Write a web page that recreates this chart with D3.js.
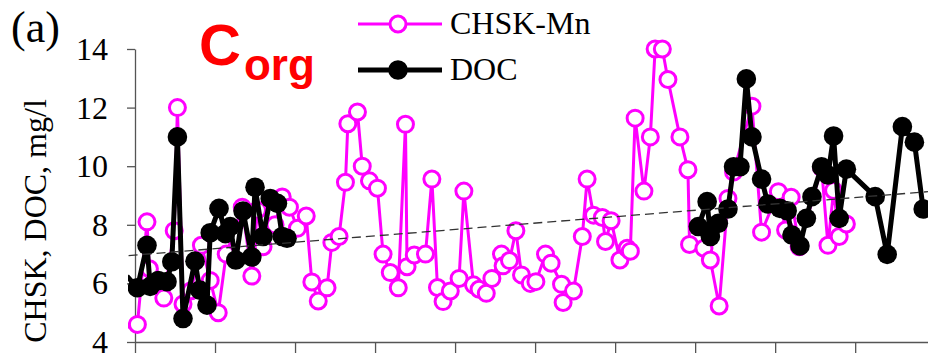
<!DOCTYPE html>
<html>
<head>
<meta charset="utf-8">
<script src="https://cdn.jsdelivr.net/npm/d3@7"></script>
<style>
  html, body { margin: 0; padding: 0; background: #fff; }
  svg { display: block; }
  .serif { font-family: 'Liberation Serif', 'DejaVu Serif', serif; }
  .sans { font-family: 'Liberation Sans', Arial, sans-serif; }
</style>
</head>
<body>
<div id="chart"></div>
<script>
// time position (tick units) and values, mg/l
const chskT = [-0.10, 0.03, 0.15, 0.18, 0.36, 0.49, 0.53, 0.60, 0.70, 0.83, 0.94, 1.04, 1.14, 1.34, 1.46, 1.53,
  1.60, 1.75, 1.84, 1.93, 2.03, 2.14, 2.21, 2.29, 2.40, 2.46, 2.55, 2.63, 2.66, 2.78, 2.84, 2.93, 3.03, 3.10,
  3.19, 3.29, 3.38, 3.40, 3.49, 3.63, 3.71, 3.78, 3.85, 3.94, 4.05, 4.11, 4.23, 4.30, 4.39, 4.46, 4.58, 4.60,
  4.68, 4.76, 4.83, 4.94, 5.01, 5.13, 5.20, 5.33, 5.35, 5.48, 5.59, 5.65, 5.73, 5.84, 5.88, 5.95, 6.06, 6.15,
  6.19, 6.25, 6.36, 6.44, 6.50, 6.59, 6.66, 6.81, 6.91, 6.93, 7.11, 7.19, 7.30, 7.41, 7.48, 7.71, 7.83, 8.04,
  8.13, 8.20, 8.30, 8.58, 8.66, 8.73, 8.80, 8.89];
const chsk = [4.5, 4.6, 8.1, 6.5, 5.5, 7.8, 12.0, 5.3, 5.75, 7.3, 6.1, 5.0, 7.0, 8.6, 6.25, 8.5,
  7.25, 8.0, 8.95, 8.6, 7.88, 8.3, 6.05, 5.4, 5.85, 7.4, 7.6, 9.45, 11.45, 11.85, 10.0, 9.5, 9.25, 7.0,
  6.37, 5.85, 11.43, 6.57, 6.97, 7.0, 9.56, 5.86, 5.38, 5.74, 6.17, 9.15, 5.95, 5.8, 5.66, 6.17, 7.0, 6.6,
  6.78, 7.8, 6.29, 6.0, 6.06, 7.0, 6.69, 5.97, 5.35, 5.74, 7.6, 9.56, 8.33, 8.25, 7.43, 8.14, 6.8, 7.2,
  7.1, 11.64, 9.15, 11.0, 14.0, 14.0, 12.96, 11.0, 9.88, 7.33, 7.2, 6.8, 5.23, 8.9, 9.8, 12.05, 7.75, 9.13,
  7.82, 8.94, 7.25, 9.95, 7.3, 9.17, 7.6, 8.03];

const docT = [-0.10, 0.03, 0.15, 0.19, 0.29, 0.40, 0.46, 0.53, 0.60, 0.75, 0.81, 0.90, 0.94, 1.05, 1.13, 1.19,
  1.26, 1.35, 1.46, 1.50, 1.60, 1.69, 1.78, 1.84, 1.90, 4.50,
  7.04, 7.15, 7.19, 7.29, 7.41, 7.48, 7.56, 7.64, 7.71, 7.83, 7.91, 8.06, 8.15, 8.21, 8.31, 8.39, 8.46, 8.58,
  8.66, 8.73, 8.80, 8.89, 9.25, 9.40, 9.59, 9.74, 9.85];
const doc = [6.25, 5.85, 7.3, 5.9, 6.1, 6.06, 6.74, 11.0, 4.8, 6.76, 5.77, 5.26, 7.73, 8.56, 7.7, 7.94,
  6.8, 8.47, 6.9, 9.28, 7.6, 8.9, 8.73, 7.6, 7.54, null,
  7.94, 8.79, 7.6, 8.05, 8.54, 9.98, 9.98, 12.98, 11.0, 9.56, 8.71, 8.56, 8.48, 7.65, 7.28, 8.22, 8.96, 9.98,
  9.7, 11.03, 8.22, 9.9, 8.96, 6.99, 11.35, 10.82, 8.54];

// linear trend (ends)
const trendT = [-0.08, 9.91];
const trendV = [6.95, 9.13];

const yTicks = [4, 6, 8, 10, 12, 14];
const xTicks = [0, 1, 2, 3, 4, 5, 6, 7, 8, 9];
const seriesNames = ['CHSK-Mn', 'DOC'];

const W = 928, H = 353;
const MAG = '#ff00ff';

const svg = d3.select('#chart').append('svg').attr('width', W).attr('height', H);

const x = d3.scaleLinear().domain([0, 9.91]).range([135, 928]);
const y = d3.scaleLinear().domain([4, 14]).range([342, 49]);

svg.append('defs').append('clipPath').attr('id', 'plot')
  .append('rect').attr('x', 128).attr('y', 0).attr('width', W).attr('height', H);

// Axes
const yAxis = svg.append('g')
  .attr('transform', `translate(${x(0)},0)`)
  .call(d3.axisLeft(y).tickValues(yTicks).tickSize(8).tickSizeOuter(0).tickPadding(19));
yAxis.attr('font-family', null).attr('font-size', null);
yAxis.selectAll('text').attr('class', 'serif').style('font-size', '32px').attr('fill', '#000').attr('dy', '0.33em');

svg.append('g')
  .attr('transform', `translate(0,${y(4)})`)
  .call(d3.axisBottom(x).tickValues(xTicks).tickSize(11).tickSizeOuter(0).tickFormat(''));

svg.selectAll('.domain, .tick line').attr('stroke', '#555').attr('stroke-width', 1.3);

const plot = svg.append('g').attr('clip-path', 'url(#plot)');

const chskData = chskT.map((t, i) => ({ t, v: chsk[i] }));
const docData = docT.map((t, i) => ({ t, v: doc[i] }));

const line = d3.line().defined((d) => d.v !== null).x((d) => x(d.t)).y((d) => y(d.v));

// CHSK-Mn
plot.append('path').datum(chskData)
  .attr('d', line).attr('fill', 'none').attr('stroke', MAG).attr('stroke-width', 3).attr('stroke-linejoin', 'round');
plot.selectAll('.m-dot').data(chskData.filter((d) => d.t >= 0)).enter().append('circle')
  .attr('class', 'm-dot')
  .attr('cx', (d) => x(d.t)).attr('cy', (d) => y(d.v)).attr('r', 8)
  .attr('fill', '#fff').attr('stroke', MAG).attr('stroke-width', 3);

// DOC
plot.append('path').datum(docData)
  .attr('d', line).attr('fill', 'none').attr('stroke', '#000').attr('stroke-width', 5).attr('stroke-linejoin', 'round');
plot.selectAll('.d-dot').data(docData.filter((d) => d.v !== null && d.t >= 0)).enter().append('circle')
  .attr('class', 'd-dot')
  .attr('cx', (d) => x(d.t)).attr('cy', (d) => y(d.v)).attr('r', 9.8)
  .attr('fill', '#000');

// trend
plot.append('path').datum(trendT.map((t, i) => ({ t, v: trendV[i] })))
  .attr('d', line).attr('fill', 'none').attr('stroke', '#333').attr('stroke-width', 1.3)
  .attr('stroke-dasharray', '9,5');

// Y label
svg.append('text')
  .attr('class', 'serif')
  .attr('transform', 'translate(46,221) rotate(-90)')
  .attr('text-anchor', 'middle')
  .style('font-size', '32px')
  .text('CHSK, DOC, mg/l');

// Panel tag
svg.append('text').attr('class', 'serif').attr('x', 11).attr('y', 42)
  .style('font-size', '44px').text('(a)');

// C_org
const corg = svg.append('text').attr('class', 'sans').attr('x', 199).attr('y', 65)
  .attr('font-weight', 'bold').attr('fill', '#ff0000');
corg.append('tspan').style('font-size', '58px').text('C');
corg.append('tspan').style('font-size', '44px').attr('dx', 3).attr('dy', 15).text('org');

// Legend
const legend = svg.append('g');
const legRows = [
  { name: seriesNames[0], y: 24, color: MAG, width: 3, filled: false },
  { name: seriesNames[1], y: 70, color: '#000', width: 5, filled: true },
];
legRows.forEach((r) => {
  legend.append('line').attr('x1', 358).attr('x2', 442).attr('y1', r.y).attr('y2', r.y)
    .attr('stroke', r.color).attr('stroke-width', r.width);
  legend.append('circle').attr('cx', 398).attr('cy', r.y).attr('r', r.filled ? 9.8 : 8)
    .attr('fill', r.filled ? '#000' : '#fff').attr('stroke', r.color).attr('stroke-width', r.filled ? 0 : 3);
  legend.append('text').attr('class', 'serif').attr('x', 450).attr('y', r.y + 10)
    .style('font-size', '32px').text(r.name);
});
</script>
</body>
</html>
